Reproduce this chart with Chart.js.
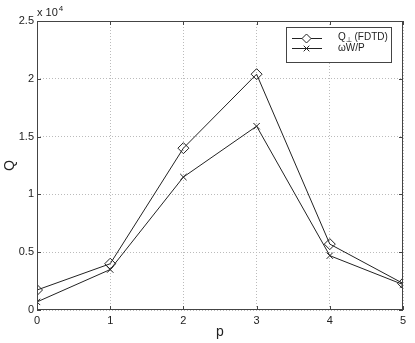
<!DOCTYPE html>
<html>
<head>
<script src="https://cdn.jsdelivr.net/npm/chart.js"></script>
<style>
    body { margin: 0; background: #fff; }
    #wrap { width: 415px; height: 343px; }
</style>
</head>
<body>
<div id="wrap"><canvas id="myChart"></canvas></div>
<script>
    // data (Q in units of 1e4 on the axis)
    var pValues = [0, 1, 2, 3, 4, 5];
    var qFdtd = [1730, 4000, 14000, 20400, 5700, 2300];
    var qEnergy = [700, 3500, 11500, 15900, 4700, 2200];
    var xTicks = [0, 1, 2, 3, 4, 5];
    var yTicks = [0, 5000, 10000, 15000, 20000, 25000];

    var FONT = '"Liberation Sans", Arial, Helvetica, sans-serif';
    var INK = '#222';

    function pts(ys) {
        return pValues.map(function (p, i) { return { x: p, y: ys[i] }; });
    }

    // box around the axes, inward ticks on all four sides, "x 10^4" and the legend
    var matlabFrame = {
        id: 'matlabFrame',
        afterDatasetsDraw: function (chart) {
            var ctx = chart.ctx, a = chart.chartArea;
            var xs = chart.scales.x, ys = chart.scales.y;
            ctx.save();
            ctx.strokeStyle = '#444';
            ctx.lineWidth = 1;
            ctx.strokeRect(Math.round(a.left) + 0.5, Math.round(a.top) + 0.5,
                Math.round(a.right - a.left) - 1, Math.round(a.bottom - a.top) - 1);
            ctx.beginPath();
            xTicks.forEach(function (t) {
                var px = Math.round(xs.getPixelForValue(t)) + 0.5;
                ctx.moveTo(px, a.bottom); ctx.lineTo(px, a.bottom - 4);
                ctx.moveTo(px, a.top); ctx.lineTo(px, a.top + 4);
            });
            yTicks.forEach(function (t) {
                var py = Math.round(ys.getPixelForValue(t)) + 0.5;
                ctx.moveTo(a.left, py); ctx.lineTo(a.left + 4, py);
                ctx.moveTo(a.right, py); ctx.lineTo(a.right - 4, py);
            });
            ctx.stroke();

            // exponent label
            ctx.fillStyle = INK;
            ctx.textBaseline = 'alphabetic';
            ctx.textAlign = 'left';
            ctx.font = '11px ' + FONT;
            ctx.fillText('x 10', a.left, a.top - 5);
            var w = ctx.measureText('x 10').width;
            ctx.font = '8px ' + FONT;
            ctx.fillText('4', a.left + w + 1, a.top - 10);

            // legend
            var bx = 286.5, by = 27.5, bw = 105, bh = 35;
            ctx.fillStyle = '#fff';
            ctx.fillRect(bx, by, bw, bh);
            ctx.strokeStyle = '#444';
            ctx.strokeRect(bx, by, bw, bh);
            var rows = [38.5, 48.5];
            chart.data.datasets.forEach(function (ds, i) {
                var y = rows[i];
                ctx.strokeStyle = ds.borderColor;
                ctx.lineWidth = 1;
                ctx.beginPath();
                ctx.moveTo(292, y); ctx.lineTo(322, y);
                ctx.stroke();
                Chart.helpers.drawPoint(ctx, {
                    pointStyle: ds.pointStyle, radius: i === 0 ? 4.5 : 4,
                    borderWidth: 1, rotation: 0
                }, 306.5, y);
                ctx.fillStyle = INK;
                ctx.font = '10px ' + FONT;
                ctx.textBaseline = 'middle';
                if (i === 0) {
                    ctx.fillText('Q', 338, y - 1);
                    ctx.font = '7px ' + FONT;
                    ctx.fillText('\u22A5', 346, y + 2);
                    ctx.font = '10px ' + FONT;
                    ctx.fillText('(FDTD)', 354.5, y - 1);
                } else {
                    ctx.fillText(ds.label, 338, y);
                }
            });
            ctx.restore();
        }
    };

    var ctx = document.getElementById('myChart').getContext('2d');
    var myChart = new Chart(ctx, {
        type: 'line',
        data: {
            datasets: [
                {
                    label: 'Q\u22A5 (FDTD)',
                    data: pts(qFdtd),
                    borderColor: INK,
                    borderWidth: 1,
                    pointStyle: 'rectRot',
                    pointRadius: 5.5,
                    pointBorderColor: INK,
                    pointBackgroundColor: 'rgba(0,0,0,0)',
                    pointBorderWidth: 1,
                    tension: 0
                },
                {
                    label: '\u03C9W/P',
                    data: pts(qEnergy),
                    borderColor: INK,
                    borderWidth: 1,
                    pointStyle: 'crossRot',
                    pointRadius: 4.5,
                    pointBorderColor: INK,
                    pointBorderWidth: 1,
                    tension: 0
                }
            ]
        },
        options: {
            responsive: true,
            maintainAspectRatio: false,
            animation: false,
            layout: { padding: { top: 21, right: 12, left: 0, bottom: 0 } },
            plugins: {
                legend: { display: false },
                tooltip: { enabled: false }
            },
            scales: {
                x: {
                    type: 'linear',
                    min: 0, max: 5,
                    afterFit: function (s) { s.height = 33; },
                    afterBuildTicks: function (s) { s.ticks = xTicks.map(function (v) { return { value: v }; }); },
                    grid: { color: '#bbb', drawTicks: false },
                    border: { display: false, dash: [1, 2] },
                    ticks: { color: INK, font: { family: FONT, size: 11 }, padding: 4, maxRotation: 0 },
                    title: { display: true, text: 'p', color: INK, font: { family: FONT, size: 14 }, padding: { top: 0, bottom: 2 } }
                },
                y: {
                    min: 0, max: 25000,
                    afterFit: function (s) { s.width = 37; },
                    afterBuildTicks: function (s) { s.ticks = yTicks.map(function (v) { return { value: v }; }); },
                    grid: { color: '#bbb', drawTicks: false },
                    border: { display: false, dash: [1, 2] },
                    ticks: {
                        color: INK, font: { family: FONT, size: 11 }, padding: 3,
                        callback: function (v) { return String(v / 10000); }
                    },
                    title: { display: true, text: 'Q', color: INK, font: { family: FONT, size: 14 }, padding: { top: 2, bottom: 0 } }
                }
            }
        },
        plugins: [matlabFrame]
    });
</script>
</body>
</html>
